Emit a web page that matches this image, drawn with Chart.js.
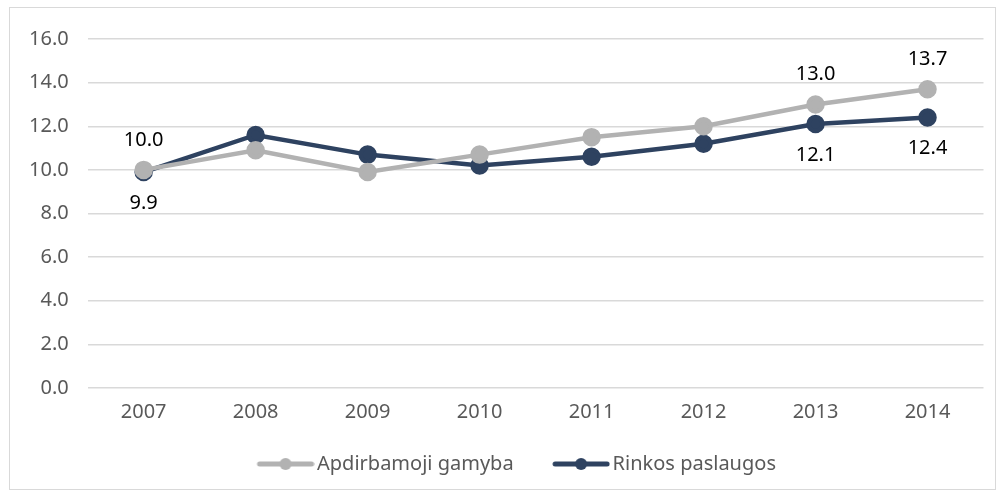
<!DOCTYPE html>
<html>
<head>
<meta charset="utf-8">
<script src="https://cdn.jsdelivr.net/npm/chart.js@4"></script>
<style>
  html, body { margin: 0; padding: 0; background: #fff; }
  #box { position: absolute; left: 9px; top: 7px; width: 985px; height: 481px; border: 1px solid #d9d9d9; }
  #wrap { position: absolute; left: 0; top: 0; width: 985px; height: 481px; }
</style>
</head>
<body>
<div id="box"><div id="wrap"><canvas id="grafico"></canvas></div></div>
<script>
const metai = ['2007', '2008', '2009', '2010', '2011', '2012', '2013', '2014'];
const apdirbamoji = [10.0, 10.9, 9.9, 10.7, 11.5, 12.0, 13.0, 13.7];
const rinkos = [9.9, 11.6, 10.7, 10.2, 10.6, 11.2, 12.1, 12.4];
const pavadinimai = ['Apdirbamoji gamyba', 'Rinkos paslaugos'];
const yTicks = [0, 2, 4, 6, 8, 10, 12, 14, 16];

// kurie taskai turi reiksmes etikete ir kur ji (virs / po)
const etiketesA = { 0: 'top', 6: 'top', 7: 'top' };
const etiketesR = { 0: 'bottom', 6: 'bottom', 7: 'bottom' };

const SPALVA_A = '#b2b2b2';
const SPALVA_R = '#2e4260';
const SRIFTAS = "'Noto Sans', sans-serif";

// legendos zenklas: linija su tasku, su tusciu krastu kaireje kad atitiktu tarpus
function legendosZenklas(spalva) {
    const c = document.createElement('canvas');
    c.width = 86; c.height = 14;
    const g = c.getContext('2d');
    const o = 28.5;
    g.strokeStyle = spalva;
    g.lineWidth = 5;
    g.lineCap = 'round';
    g.beginPath(); g.moveTo(o + 2.5, 7); g.lineTo(o + 54.5, 7); g.stroke();
    g.fillStyle = spalva;
    g.beginPath(); g.arc(o + 28.5, 7, 6, 0, Math.PI * 2); g.fill();
    return c;
}

const reiksmiuEtiketes = {
    id: 'reiksmiuEtiketes',
    afterDatasetsDraw(chart) {
        const ctx = chart.ctx;
        ctx.save();
        ctx.font = '20px ' + SRIFTAS;
        ctx.fillStyle = '#000';
        ctx.textAlign = 'center';
        ctx.textBaseline = 'middle';
        [etiketesA, etiketesR].forEach((pozicijos, di) => {
            const meta = chart.getDatasetMeta(di);
            const duomenys = chart.data.datasets[di].data;
            Object.keys(pozicijos).forEach(k => {
                const taskas = meta.data[k];
                if (!taskas) return;
                const virsuj = pozicijos[k] === 'top';
                ctx.fillText(duomenys[k].toFixed(1), taskas.x, virsuj ? taskas.y - 30 : taskas.y + 31);
            });
        });
        ctx.restore();
    }
};

// legenda truputi i desine, kaip originale
const legendosPoslinkis = {
    id: 'legendosPoslinkis',
    afterLayout(chart) {
        if (chart.legend) chart.legend.left += 18;
    }
};

new Chart(document.getElementById('grafico'), {
    type: 'line',
    data: {
        labels: metai,
        datasets: [
            {
                label: pavadinimai[0],
                data: apdirbamoji,
                borderColor: SPALVA_A,
                backgroundColor: SPALVA_A,
                borderWidth: 4.5,
                pointRadius: 7,
                pointHoverRadius: 7,
                pointStyle: 'circle',
                tension: 0
            },
            {
                label: pavadinimai[1],
                data: rinkos,
                borderColor: SPALVA_R,
                backgroundColor: SPALVA_R,
                borderWidth: 4.5,
                pointRadius: 7,
                pointHoverRadius: 7,
                pointStyle: 'circle',
                tension: 0
            }
        ]
    },
    options: {
        responsive: true,
        maintainAspectRatio: false,
        animation: false,
        layout: { padding: { left: 0, right: 11, top: 16, bottom: 5 } },
        plugins: {
            tooltip: { enabled: false },
            legend: {
                position: 'bottom',
                labels: {
                    usePointStyle: true,
                    pointStyleWidth: 71,
                    padding: 18,
                    color: '#595959',
                    font: { family: SRIFTAS, size: 20 },
                    generateLabels(chart) {
                        return chart.data.datasets.map((ds, i) => ({
                            text: ds.label,
                            pointStyle: legendosZenklas(ds.borderColor),
                            fontColor: '#595959',
                            lineWidth: 0,
                            strokeStyle: 'transparent',
                            fillStyle: 'transparent',
                            datasetIndex: i,
                            hidden: false
                        }));
                    }
                }
            }
        },
        scales: {
            x: {
                offset: true,
                grid: { display: false, drawTicks: false },
                border: { display: false },
                ticks: { color: '#595959', font: { family: SRIFTAS, size: 20 }, padding: 12 }
            },
            y: {
                min: 0,
                max: 16,
                afterBuildTicks(axis) { axis.ticks = yTicks.map(v => ({ value: v })); },
                grid: { color: '#d9d9d9', lineWidth: 1.5, drawTicks: false },
                border: { display: false },
                ticks: {
                    color: '#595959',
                    font: { family: SRIFTAS, size: 20 },
                    padding: 19,
                    callback: v => Number(v).toFixed(1)
                }
            }
        }
    },
    plugins: [reiksmiuEtiketes, legendosPoslinkis]
});
</script>
</body>
</html>
